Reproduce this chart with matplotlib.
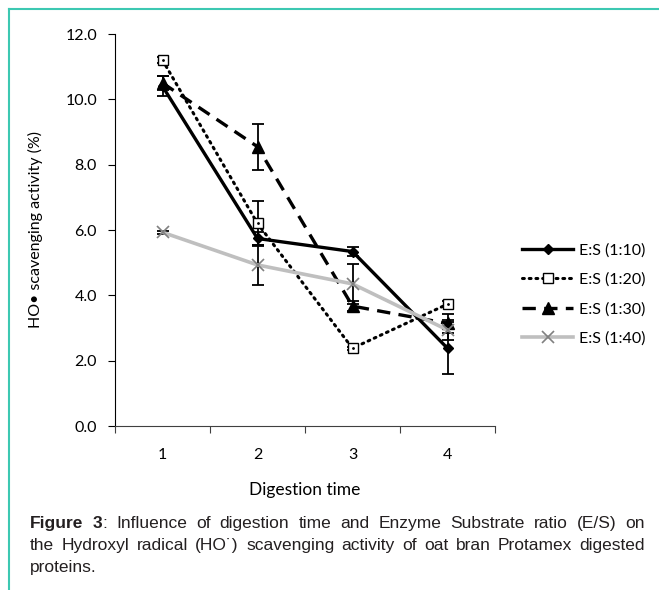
import matplotlib
matplotlib.use("Agg")
import matplotlib.pyplot as plt
from matplotlib.lines import Line2D
import numpy as np

# ---- data ----
times = [1, 2, 3, 4]
tick_labels = ["1", "2", "3", "4"]
series_names = ["E:S (1:10)", "E:S (1:20)", "E:S (1:30)", "E:S (1:40)"]
es_1_10 = [10.4, 5.74, 5.34, 2.38]
es_1_10_err = [0.3, 0.2, 0.15, 0.8]
es_1_20 = [11.2, 6.2, 2.38, 3.73]
es_1_20_err = [0.1, 0.7, 0.05, 0.1]
es_1_30 = [10.5, 8.55, 3.67, 3.14]
es_1_30_err = [0.2, 0.7, 0.15, 0.3]
es_1_40 = [5.93, 4.93, 4.35, 2.94]
es_1_40_err = [0.05, 0.6, 0.6, 0.3]
y_ticks = [0, 2, 4, 6, 8, 10, 12]

plt.rcParams['font.family'] = ['Lato', 'DejaVu Sans']

W, H = 659, 590
fig = plt.figure(figsize=(W/100, H/100), dpi=100)
ax = fig.add_axes([115/W, 1-426/H, 380/W, (426-34)/H])

styles = [
    dict(color='black', lw=2.4, ls='-', marker='D', ms=5, mfc='black', mec='black'),
    dict(color='black', lw=2.2, ls=(0, (0.6, 1.6)), dash_capstyle='round', marker='s', ms=7, mfc='white', mec='black', mew=1.0),
    dict(color='black', lw=2.4, ls=(0, (4, 2.5)), marker='^', ms=8, mfc='black', mec='black'),
    dict(color='#bfbfbf', lw=2.6, ls='-', marker='x', ms=9, mec='#808080', mew=1.2),
]
data = [(es_1_10, es_1_10_err), (es_1_20, es_1_20_err), (es_1_30, es_1_30_err), (es_1_40, es_1_40_err)]

handles = []
for (vals, errs), st, name in zip(data, styles, series_names):
    ax.errorbar(times, vals, yerr=errs, fmt='none', ecolor='black', elinewidth=1.3, capsize=4, capthick=1.3, zorder=2)
    h, = ax.plot(times, vals, label=name, zorder=3, **st)
    handles.append(h)
ax.plot(times, es_1_20, ls='none', marker='.', ms=2, color='black', zorder=4)

ax.set_xlim(0.5, 4.5)
ax.set_ylim(0, 12)
ax.set_yticks(y_ticks)
ax.set_yticklabels([f"{v:.1f}" for v in y_ticks], fontsize=11.5)
ax.set_xticks([0.5, 1.5, 2.5, 3.5, 4.5])
ax.set_xticklabels([])
ax.set_xticks(times, minor=True)
ax.set_xticklabels(tick_labels, minor=True, fontsize=11.5)
ax.tick_params(axis='x', which='minor', length=0, pad=16)
ax.tick_params(axis='x', which='major', length=5, direction='out', color='#404040')
ax.tick_params(axis='y', length=5, direction='out', pad=8)
for s in ['top', 'right']:
    ax.spines[s].set_visible(False)
ax.spines['bottom'].set_color('#404040')
ax.spines['left'].set_color('black')

ax.set_xlabel("Digestion time", fontsize=12.5, labelpad=14)
ax.set_ylabel("HO\u2022 scavenging activity (%)", fontsize=11.5, labelpad=16)

leg = fig.legend(handles=handles, loc='upper left', bbox_to_anchor=(522/W, 1-243/H),
                 frameon=False, fontsize=11.5, handlelength=3.2, handletextpad=0.35,
                 labelspacing=0.95, borderaxespad=0, borderpad=0)

# border lines
teal = '#3cc8b2'
fig.add_artist(Line2D([9/W, 1.0], [1-8.5/H, 1-8.5/H], color=teal, lw=1.5, transform=fig.transFigure))
fig.add_artist(Line2D([9/W, 9/W], [0, 1-8.5/H], color=teal, lw=1.5, transform=fig.transFigure))

# caption (justified)
cap_font = ['Liberation Sans', 'DejaVu Sans']
cap_size = 12.5
cap_color = '#231f20'
line1 = [[("Figure", "bold")], [("3", "bold"), (":", "normal")]] + \
        [[(w, "normal")] for w in "Influence of digestion time and Enzyme Substrate ratio (E/S) on".split()]
line2 = [[(w, "normal")] for w in "the Hydroxyl radical (HO\u02d9) scavenging activity of oat bran Protamex digested".split()]
line3 = [[("proteins.", "normal")]]
renderer = fig.canvas.get_renderer()
x_left, x_right = 30, 645

def place_line(words, y_px, justify=True):
    items = []
    for word in words:
        pieces = []
        for txt, wt in word:
            t = fig.text(0, 1 - y_px/H, txt, fontsize=cap_size, fontweight=wt, family=cap_font,
                         color=cap_color, va='baseline', ha='left')
            w = t.get_window_extent(renderer).width
            pieces.append((t, w))
        items.append(pieces)
    widths = [sum(w for _, w in p) for p in items]
    if justify and len(items) > 1:
        gap = (x_right - x_left - sum(widths)) / (len(items) - 1)
    else:
        gap = 4
    x = x_left
    for pieces, wsum in zip(items, widths):
        xx = x
        for t, w in pieces:
            t.set_x(xx / W)
            xx += w
        x += wsum + gap

place_line(line1, 528)
place_line(line2, 550)
place_line(line3, 572, justify=False)

fig.savefig("out.png", dpi=100)
